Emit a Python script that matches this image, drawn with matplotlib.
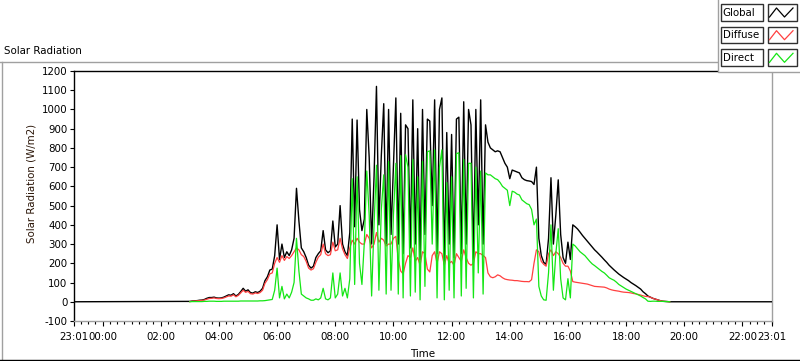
import matplotlib
matplotlib.use("Agg")
import matplotlib.pyplot as plt
import numpy as np
from matplotlib.patches import Rectangle
from matplotlib.lines import Line2D
from matplotlib.ticker import MultipleLocator, FixedLocator

plt.rcParams['font.family'] = ['DejaVu Sans']
FS = 7.4

# ---------------- data (5-minute samples starting 03:00) ----------------
start_time = "03:00"
step_minutes = 5

global_vals = [
    2, 4, 5, 6, 8, 9, 12, 18, 22, 22, 24, 20,                       # 03
    19, 20, 24, 30, 36, 34, 42, 30, 38, 53, 70, 55,                 # 04
    62, 48, 45, 52, 48, 55, 70, 110, 130, 165, 170, 240,            # 05
    400, 220, 300, 230, 260, 240, 270, 330, 590, 420, 280, 260,     # 06
    230, 190, 175, 185, 230, 250, 265, 370, 270, 255, 265, 420,     # 07
    285, 300, 500, 300, 260, 240, 360, 950, 390, 945, 480, 370,     # 08
    430, 1000, 750, 300, 650, 1120, 400, 760, 1030, 300, 1000, 350, # 09
    700, 1060, 300, 980, 250, 920, 900, 280, 1050, 300, 900, 220,   # 10
    1000, 350, 950, 940, 500, 1050, 250, 1000, 1060, 200, 880, 300, # 11
    870, 230, 950, 960, 250, 1040, 300, 1000, 920, 220, 1000, 400,  # 12
    1050, 300, 920, 830, 800, 790, 780, 785, 780, 750, 720, 700,    # 13
    640, 685, 680, 675, 670, 645, 635, 630, 628, 625, 610, 700,     # 14
    330, 240, 205, 195, 330, 645, 300, 450, 634, 350, 230, 200,     # 15
    310, 220, 400, 390, 378, 362, 345, 330, 315, 300, 285, 270,     # 16
    258, 245, 232, 218, 205, 190, 178, 166, 155, 144, 135, 126,     # 17
    118, 110, 100, 92, 84, 75, 66, 52, 42, 30, 24, 18,              # 18
    14, 10, 6, 3, 2, 1, 0,                                          # 19
]

diffuse_vals = [
    1, 3, 4, 5, 6, 7, 9, 13, 17, 18, 20, 17,                        # 03
    16, 17, 20, 25, 30, 29, 36, 26, 33, 46, 60, 49,                 # 04
    54, 42, 40, 46, 43, 48, 60, 96, 115, 145, 150, 200,             # 05
    230, 205, 240, 215, 235, 225, 240, 260, 280, 270, 245, 235,     # 06
    210, 175, 165, 172, 205, 232, 245, 300, 250, 240, 245, 310,     # 07
    265, 270, 330, 275, 245, 225, 280, 320, 300, 330, 310, 300,     # 08
    300, 350, 330, 280, 300, 360, 310, 330, 320, 290, 300, 300,     # 09
    330, 340, 220, 160, 145, 200, 240, 230, 280, 210, 230, 190,     # 10
    260, 250, 170, 155, 240, 260, 200, 260, 250, 190, 240, 200,     # 11
    210, 190, 250, 230, 210, 270, 230, 200, 190, 200, 260, 250,     # 12
    250, 240, 230, 150, 130, 125, 130, 140, 135, 125, 118, 115,     # 13
    113, 112, 110, 110, 108, 106, 105, 105, 104, 115, 200, 270,     # 14
    260, 210, 195, 185, 250, 270, 240, 260, 250, 230, 200, 185,     # 15
    185, 160, 105, 102, 100, 98, 96, 94, 92, 88, 84, 80,            # 16
    79, 78, 77, 76, 72, 66, 62, 59, 57, 55, 52, 50,                 # 17
    49, 48, 46, 43, 41, 38, 35, 31, 28, 27, 24, 18,                 # 18
    14, 10, 6, 3, 2, 1, 0,                                          # 19
]

direct_vals = [
    0, 1, 1, 1, 1, 1, 2, 2, 3, 3, 3, 2,                             # 03
    2, 2, 3, 3, 3, 3, 3, 3, 3, 4, 4, 4,                             # 04
    4, 4, 4, 4, 4, 5, 5, 6, 8, 10, 12, 60,                          # 05
    175, 20, 80, 15, 40, 20, 50, 100, 330, 160, 40, 30,             # 06
    20, 15, 8, 8, 15, 10, 20, 70, 15, 10, 20, 150,                  # 07
    20, 40, 150, 30, 70, 20, 120, 640, 90, 650, 200, 90,            # 08
    310, 680, 450, 30, 400, 710, 60, 480, 660, 40, 730, 60,         # 09
    450, 720, 40, 760, 20, 765, 700, 30, 740, 50, 650, 10,          # 10
    730, 80, 780, 785, 300, 790, 20, 700, 790, 10, 620, 60,         # 11
    650, 20, 770, 775, 30, 740, 70, 720, 720, 20, 700, 150,         # 12
    680, 40, 670, 660, 660, 650, 640, 635, 620, 600, 590, 580,      # 13
    500, 575, 570, 560, 555, 530, 520, 510, 505, 480, 400, 430,     # 14
    80, 30, 10, 8, 150, 400, 60, 250, 380, 120, 20, 10,             # 15
    120, 20, 300, 290, 275, 260, 250, 240, 225, 210, 197, 188,      # 16
    178, 168, 158, 150, 138, 125, 118, 112, 102, 90, 82, 74,        # 17
    66, 60, 54, 48, 42, 36, 30, 22, 15, 3, 2, 3,                    # 18
    3, 2, 2, 2, 1, 1, 0,                                            # 19
]

series_names = ["Global", "Diffuse", "Direct"]
series_colors = ["#000000", "#ff4040", "#14e614"]

y_ticks = list(range(-100, 1300, 100))
x_tick_labels = ["23:01", "00:00", "02:00", "04:00", "06:00", "08:00", "10:00",
                 "12:00", "14:00", "16:00", "18:00", "20:00", "22:00", "23:01"]

# ---------------- helpers ----------------
def to_min(s):
    h, m = s.split(":")
    return int(h) * 60 + int(m)

x_tick_pos = [to_min(s) for s in x_tick_labels]
x_tick_pos[0] -= 1440          # first label is the previous day
xmin, xmax = x_tick_pos[0], x_tick_pos[-1]

t0 = to_min(start_time)
times = t0 + step_minutes * np.arange(len(global_vals))

W, H = 800, 361
fig = plt.figure(figsize=(W / 100, H / 100), dpi=100)
fig.patch.set_facecolor("white")

ax = fig.add_axes([74 / W, 1 - 321 / H, (772 - 74) / W, (321 - 71) / H])
ax.set_xlim(xmin, xmax)
ax.set_ylim(-100, 1200)

# global line spans the whole axis (zero at night)
gx = np.concatenate([[xmin], times, [xmax]])
gy = np.concatenate([[0], global_vals, [0]])
ax.plot(gx, gy, color=series_colors[0], lw=1.0, zorder=3)
ax.plot(times, diffuse_vals, color=series_colors[1], lw=0.9, zorder=4)
ax.plot(times, direct_vals, color=series_colors[2], lw=0.9, zorder=5)

# spines
for side in ["top", "left"]:
    ax.spines[side].set_color("black")
    ax.spines[side].set_linewidth(1.0)
for side in ["bottom", "right"]:
    ax.spines[side].set_color("#a0a0a0")
    ax.spines[side].set_linewidth(1.0)

ax.set_yticks(y_ticks)
ax.set_yticklabels([str(v) for v in y_ticks])
ax.xaxis.set_major_locator(FixedLocator(x_tick_pos))
ax.set_xticklabels(x_tick_labels)
ax.xaxis.set_minor_locator(MultipleLocator(15))
ax.tick_params(axis="y", which="major", length=3.2, width=0.8, pad=1.5,
               labelsize=FS, color="black", labelcolor="black")
ax.tick_params(axis="x", which="major", length=3.6, width=0.8, pad=4,
               labelsize=FS, color="black", labelcolor="black")
ax.tick_params(axis="x", which="minor", length=2.2, width=0.8, color="black")

# labels
fig.text(4 / W, 1 - 51 / H, "Solar Radiation", fontsize=FS, ha="left", va="center")
fig.text(32 / W, 1 - 183 / H, "Solar Radiation (W/m2)", fontsize=FS,
         rotation=90, ha="center", va="center", color="#2b1608")
fig.text(423 / W, 1 - 354 / H, "Time", fontsize=FS, ha="center", va="center")

# overlay for frame and legend (pixel coordinates)
ov = fig.add_axes([0, 0, 1, 1])
ov.set_xlim(0, W)
ov.set_ylim(H, 0)
ov.axis("off")
ov.patch.set_visible(False)

ov.add_line(Line2D([0, 717], [61.5, 61.5], color="#a0a0a0", lw=1))
ov.add_line(Line2D([1.5, 1.5], [61.5, 359.5], color="#a0a0a0", lw=1))
ov.add_line(Line2D([0, 800], [359.5, 359.5], color="black", lw=1))

ov.add_patch(Rectangle((717.5, -2), 90, 74, facecolor="white", edgecolor="#a0a0a0", lw=1))
row_top = [4, 26.7, 49.3]
for name, col, yt in zip(series_names, series_colors, row_top):
    ov.add_patch(Rectangle((720.5, yt), 42, 16.5, facecolor="white", edgecolor="#303030", lw=1))
    ov.text(722.5, yt + 8.6, name, fontsize=FS, ha="left", va="center")
    ov.add_patch(Rectangle((767.5, yt), 29, 16.5, facecolor="white", edgecolor="#303030", lw=1))
    zx = [769.5, 776.5, 784.5, 793]
    zy = [yt + 13, yt + 4, yt + 13, yt + 4]
    ov.add_line(Line2D(zx, zy, color=col, lw=0.9))

fig.savefig("out.png", dpi=100, facecolor="white")
